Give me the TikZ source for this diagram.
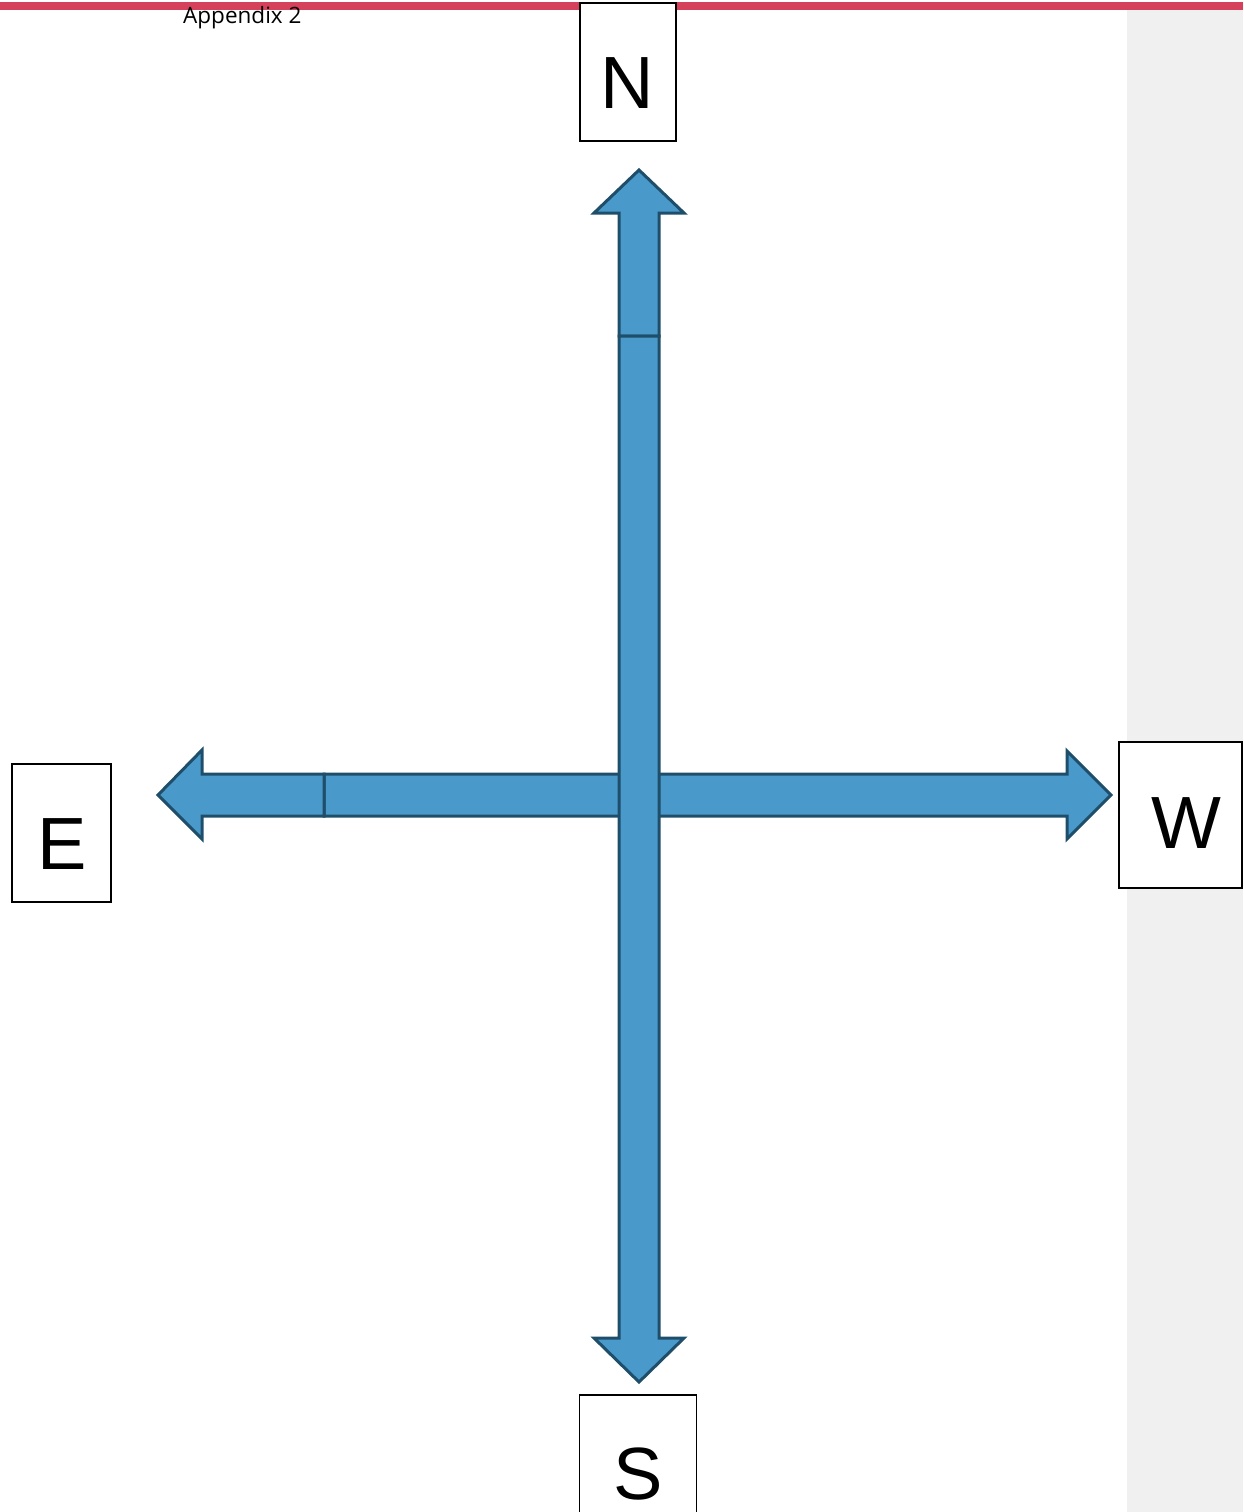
\documentclass[tikz,border=0pt]{standalone}
\usepackage{fontspec}
\setmainfont{Liberation Sans}
\newfontfamily\opensans{Open Sans}
\definecolor{redbar}{RGB}{213,65,90}
\definecolor{panelgray}{RGB}{240,240,240}
\definecolor{arrowfill}{RGB}{73,154,202}
\definecolor{arrowline}{RGB}{31,78,107}
\tikzset{
  compbox/.style={draw=black, line width=1.3pt, fill=white, inner sep=0pt},
  completter/.style={inner sep=0pt, anchor=base, font=\fontsize{74}{80}\selectfont},
  blockarrow/.style={fill=arrowfill, draw=arrowline, line width=3pt, line join=miter},
}
\begin{document}
\begin{tikzpicture}[x=1pt, y=-1pt]
\useasboundingbox (0,0) rectangle (1243,1512);
\clip (0,0) rectangle (1243,1512);
% gray side panel and red top bar
\fill[panelgray] (1127,10) rectangle (1243,1512);
\fill[redbar] (0,2) rectangle (1243,10);
% title
\node[inner sep=0pt, anchor=base west, font=\opensans\fontsize{22.5}{25}\selectfont] (title) at (183,24) {Appendix 2};
% horizontal arrows (behind)
\draw[blockarrow] (324,774) -- (1067,774) -- (1067,751) -- (1111,795) -- (1067,839) -- (1067,816) -- (324,816) -- cycle;
\draw[blockarrow] (158,795) -- (202,750) -- (202,774) -- (324,774) -- (324,816) -- (202,816) -- (202,839) -- cycle;
% vertical arrows
\draw[blockarrow] (639,170) -- (684,213) -- (659,213) -- (659,336) -- (619,336) -- (619,213) -- (594,213) -- cycle;
\draw[blockarrow] (619,336) -- (659,336) -- (659,1338) -- (684,1338) -- (639,1382) -- (594,1338) -- (619,1338) -- cycle;
% compass boxes
\node[compbox, minimum width=96pt, minimum height=138pt] (Nbox) at (628,72) {};
\node[completter] (N) at (627,108) {N};
\node[compbox, minimum width=99pt, minimum height=138pt] (Ebox) at (61.5,833) {};
\node[completter] (E) at (62,869) {E};
\node[compbox, minimum width=123pt, minimum height=146pt] (Wbox) at (1180.5,815) {};
\node[completter] (W) at (1186,848) {W};
\node[compbox, minimum width=117pt, minimum height=140pt] (Sbox) at (638,1465) {};
\node[completter] (S) at (638,1499) {S};
\end{tikzpicture}
\end{document}
